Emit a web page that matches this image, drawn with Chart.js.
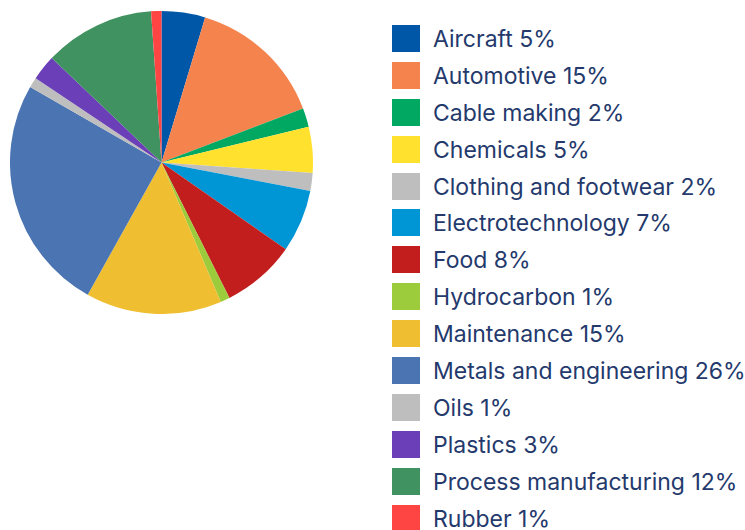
<!DOCTYPE html>
<html lang="en">
<head>
  <meta charset="UTF-8" />
  <title>Industries</title>
  <script src="https://cdn.jsdelivr.net/npm/chart.js"></script>
  <style>
    html, body { margin: 0; padding: 0; background: #fff; overflow: hidden; }
    body { width: 745px; height: 530px; position: relative; font-family: Inter, "Noto Sans", sans-serif; }
    #pieBox { position: absolute; left: 10px; top: 11px; width: 303px; height: 303px; }
    #legend { position: absolute; left: 392px; top: 25px; margin: 0; padding: 0; list-style: none; }
    #legend li { height: 36.9px; position: relative; white-space: nowrap; }
    #legend .box { position: absolute; left: 0; top: 0; width: 28px; height: 27px; }
    #legend .txt { position: absolute; left: 41px; top: -1px; font-size: 23px; line-height: 30px; color: #24396c; }
  </style>
</head>
<body>
  <div id="pieBox"><canvas id="pie"></canvas></div>
  <ul id="legend"></ul>

  <script>
    const labels = ['Aircraft', 'Automotive', 'Cable making', 'Chemicals', 'Clothing and footwear',
      'Electrotechnology', 'Food', 'Hydrocarbon', 'Maintenance', 'Metals and engineering',
      'Oils', 'Plastics', 'Process manufacturing', 'Rubber'];
    const shown = ['5%', '15%', '2%', '5%', '2%', '7%', '8%', '1%', '15%', '26%', '1%', '3%', '12%', '1%'];
    const values = [4.65, 14.55, 2.0, 4.9, 1.9, 6.7, 7.9, 1.0, 14.5, 25.2, 1.1, 2.7, 11.8, 1.1];
    const colors = ['#0057a8', '#f4834e', '#00a862', '#ffe12e', '#bebebe', '#0096d6', '#c21e1e',
      '#9ccb3b', '#f0bf31', '#4a74b2', '#bebebe', '#6a3fb7', '#409260', '#ff4444'];

    new Chart(document.getElementById('pie'), {
      type: 'pie',
      data: {
        labels: labels,
        datasets: [{ data: values, backgroundColor: colors, borderWidth: 0 }]
      },
      options: {
        responsive: true,
        maintainAspectRatio: false,
        animation: false,
        layout: { padding: 0 },
        plugins: { legend: { display: false }, tooltip: { enabled: false } }
      }
    });

    // legend built from the same arrays
    const ul = document.getElementById('legend');
    labels.forEach((l, i) => {
      const li = document.createElement('li');
      li.innerHTML = `<span class="box" style="background:${colors[i]}"></span><span class="txt">${l} ${shown[i]}</span>`;
      ul.appendChild(li);
    });
  </script>
</body>
</html>
